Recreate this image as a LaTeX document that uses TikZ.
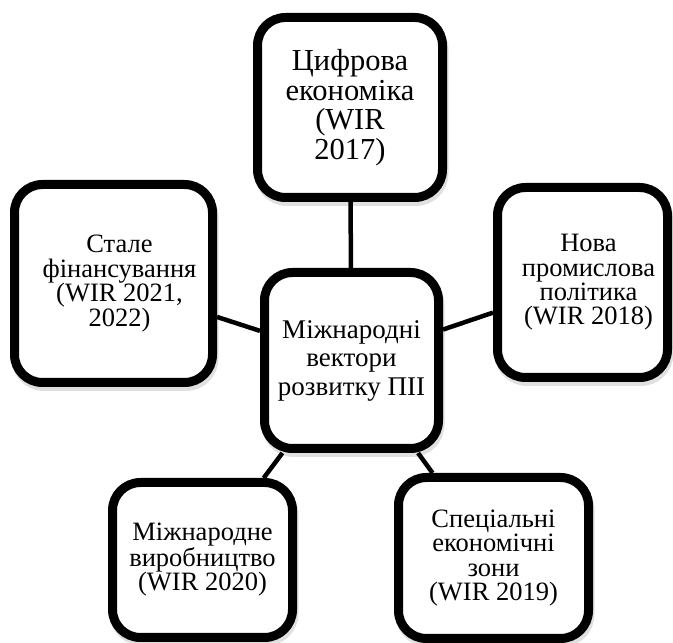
\documentclass[tikz,border=0pt]{standalone}
\usepackage{fontspec}
\setmainfont{Liberation Serif}
\usetikzlibrary{shadows}
\newcommand{\rsh}{\hspace*{12pt}}
\begin{document}
\begin{tikzpicture}[x=1pt,y=1pt,
  box/.style={draw=black, line width=9pt, fill=white, rounded corners=28pt,
    align=center, inner sep=0pt,
    drop shadow={draw=black, line width=9pt, opacity=0.12, shadow xshift=1.5pt, shadow yshift=-4pt}},
  outer/.style={font=\fontsize{26.5}{24.4}\selectfont},
  link/.style={line width=4.5pt}]
\useasboundingbox (0,0) rectangle (673,643);
\node[box, minimum width=185pt, minimum height=180pt, font=\fontsize{30.5}{29.5}\selectfont] (t) at (350,535.5) {Цифрова\\економіка\\(WIR\\2017)};
\node[box, outer, minimum width=198pt, minimum height=198pt] (l) at (113.5,359.5) {\rsh Стале\\\rsh фінансування\\\rsh (WIR 2021,\\\rsh 2022)};
\node[box, outer, minimum width=170pt, minimum height=190pt] (r) at (582.5,360.5) {\rsh Нова\\\rsh промислова\\\rsh політика\\\rsh (WIR 2018)};
\node[box, minimum width=174pt, minimum height=176pt, font=\fontsize{27}{28.5}\selectfont] (c) at (351.5,282.5) {Міжнародні\\вектори\\розвитку ПІІ};
\node[box, outer, minimum width=180pt, minimum height=155pt] (bl) at (202.5,83) {Міжнародне\\виробництво\\(WIR 2020)};
\node[box, outer, minimum width=190pt, minimum height=161pt] (br) at (493.5,85) {Спеціальні\\економічні\\зони\\(WIR 2019)};
\draw[link] (c) -- (t);
\draw[link] (c) -- (l);
\draw[link] (c) -- (r);
\draw[link] (c) -- (bl);
\draw[link] (c) -- (br);
\end{tikzpicture}
\end{document}
